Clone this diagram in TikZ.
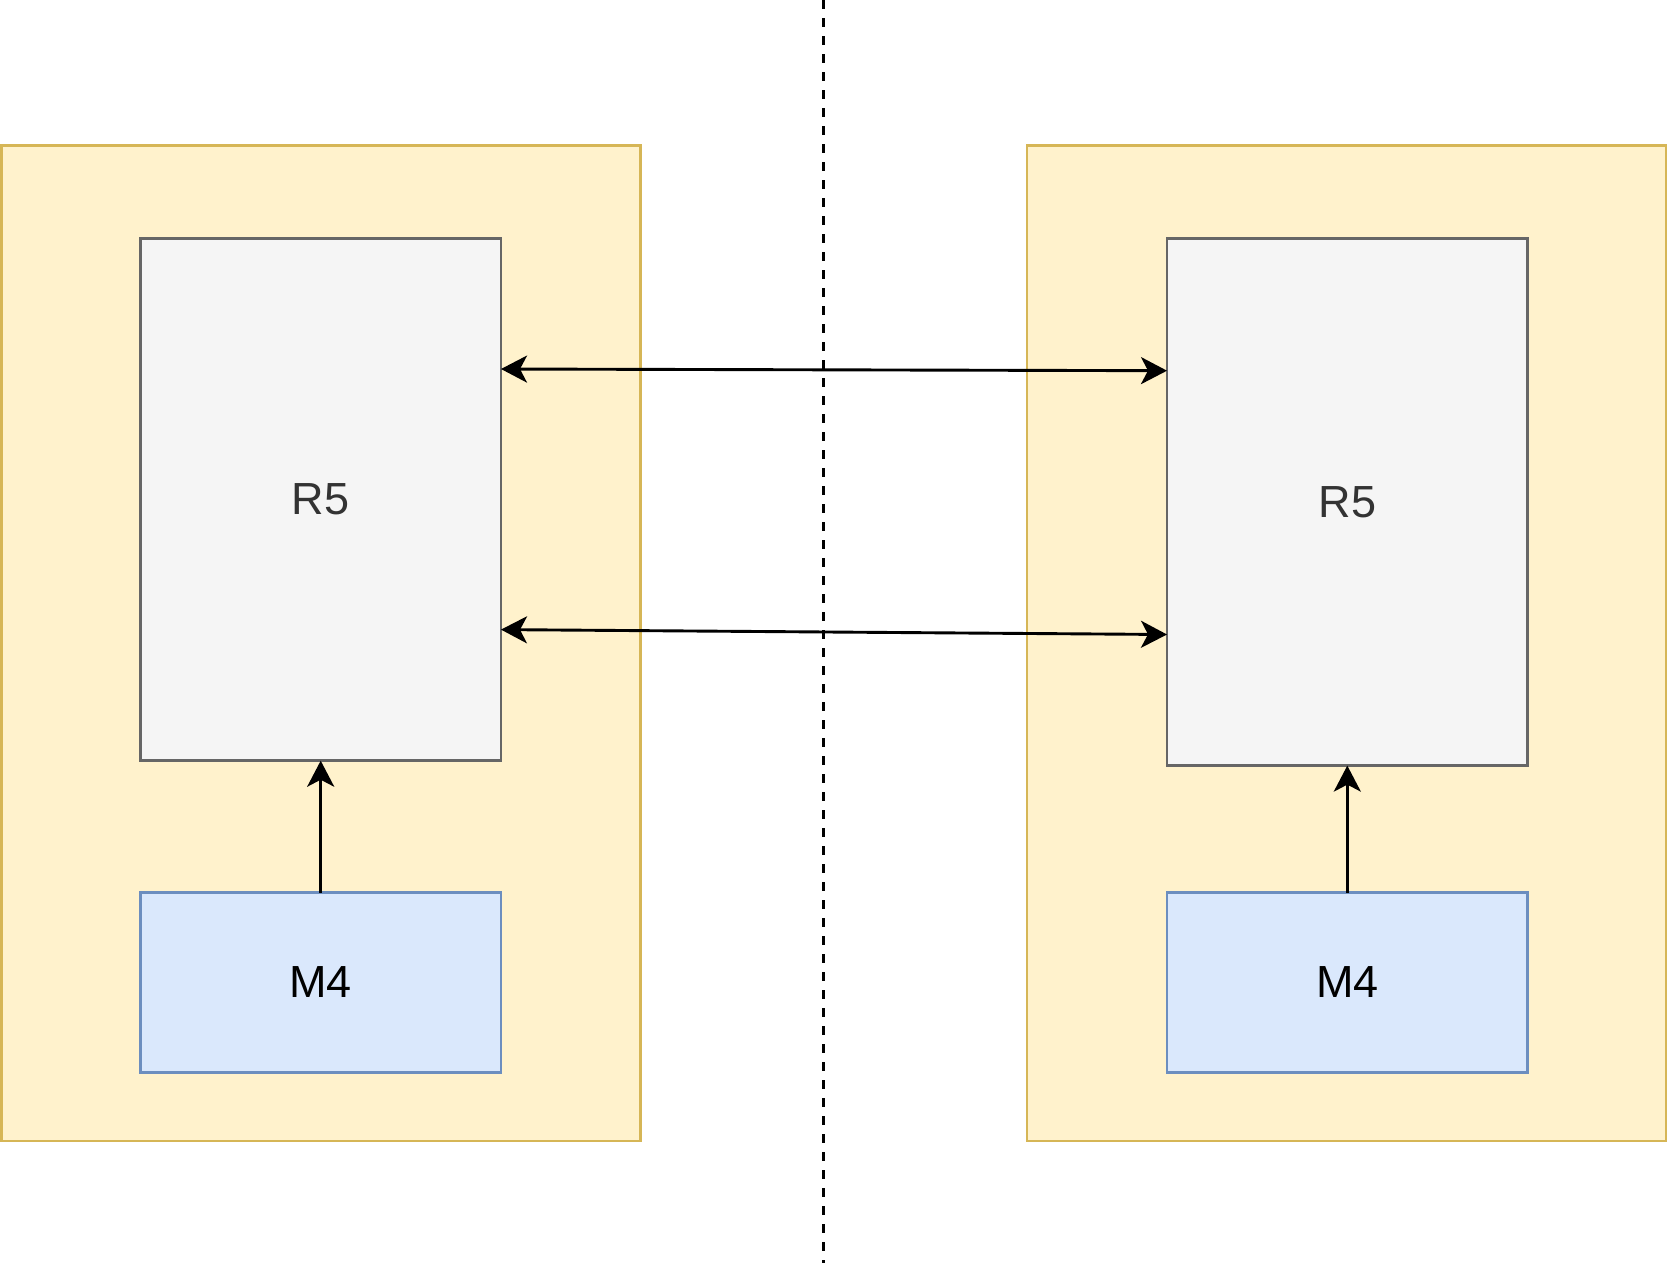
\documentclass[tikz,border=0pt]{standalone}
\usepackage{fontspec}
\setmainfont{Liberation Sans}
\usetikzlibrary{arrows.meta}
\definecolor{outerfill}{HTML}{FFF2CC}
\definecolor{outerdraw}{HTML}{D6B656}
\definecolor{rfill}{HTML}{F5F5F5}
\definecolor{rdraw}{HTML}{666666}
\definecolor{rtext}{HTML}{333333}
\definecolor{mfill}{HTML}{DAE8FC}
\definecolor{mdraw}{HTML}{6C8EBF}
\tikzset{
  outerbox/.style={draw=outerdraw,fill=outerfill,line width=2.6pt,minimum width=639pt,minimum height=995.3pt,inner sep=0pt,outer sep=0pt},
  rbox/.style={draw=rdraw,fill=rfill,line width=2.6pt,minimum width=360.6pt,inner sep=0pt,outer sep=0pt,text=rtext,font=\fontsize{45}{54}\selectfont},
  mbox/.style={draw=mdraw,fill=mfill,line width=2.6pt,minimum width=360.6pt,minimum height=179.7pt,inner sep=0pt,outer sep=0pt,text=black,font=\fontsize{45}{54}\selectfont},
  conn/.style={line width=2.9pt,-{Stealth[length=26pt,width=27pt,inset=7pt]}},
  biconn/.style={line width=2.9pt,{Stealth[length=26pt,width=27pt,inset=7pt]}-{Stealth[length=26pt,width=27pt,inset=7pt]}},
  divider/.style={line width=2.6pt,dash pattern=on 9pt off 9pt}
}
\begin{document}
\begin{tikzpicture}[x=1pt,y=-1pt]
\useasboundingbox (0,0) rectangle (1668,1269);
\node[outerbox] (lo) at (320.8,643.4) {};
\node[outerbox] (ro) at (1346.5,643.4) {};
\node[rbox,minimum height=522pt] (lr) at (320.7,499.7) {R5};
\node[rbox,minimum height=527pt] (rr) at (1347.3,502.1) {R5};
\node[mbox] (lm) at (320.7,982.5) {M4};
\node[mbox] (rm) at (1347.3,982.5) {M4};
\coordinate (dtop) at (823.4,0);
\coordinate (dbot) at (823.4,1262.5);
\draw[divider] (dtop) -- (dbot);
\draw[biconn] ([yshift=130.7pt]lr.east) -- ([yshift=131.4pt]rr.west);
\draw[biconn] ([yshift=-129.9pt]lr.east) -- ([yshift=-132.4pt]rr.west);
\draw[conn] (lm.north) -- (lr.south);
\draw[conn] (rm.north) -- (rr.south);
\end{tikzpicture}
\end{document}
